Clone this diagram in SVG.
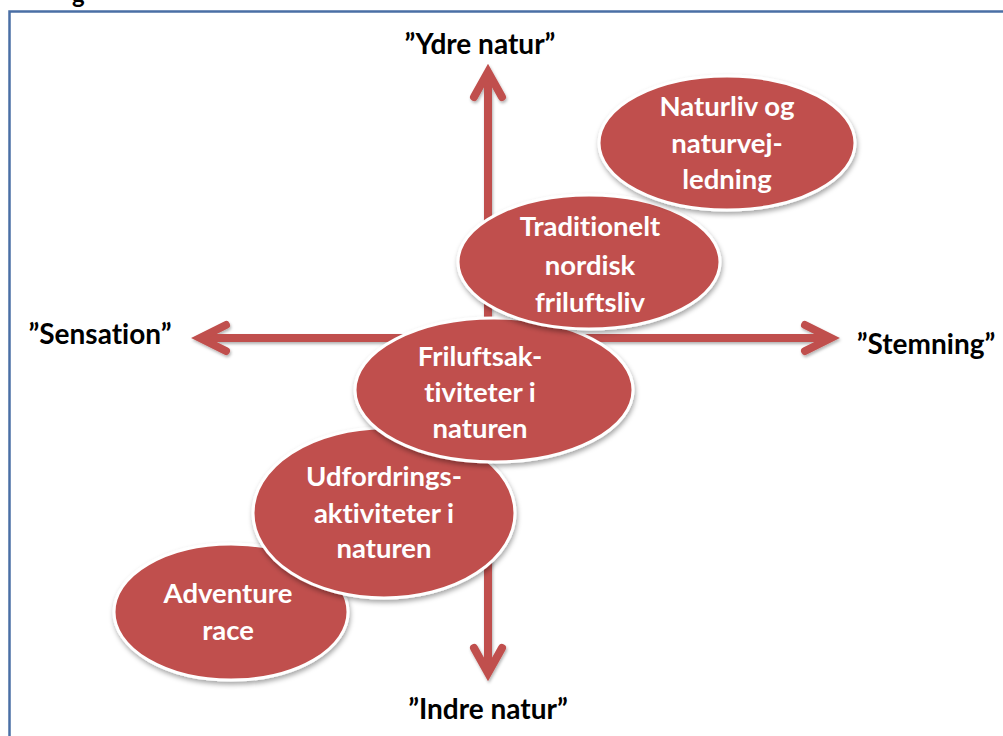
<svg xmlns="http://www.w3.org/2000/svg" width="1003" height="736" viewBox="0 0 1003 736">
<style>
.lbl{font-family:Lato,"Liberation Sans",sans-serif;font-weight:bold;font-size:28px;fill:#000;text-anchor:middle;font-variant-ligatures:none}
.nt{font-family:Lato,"Liberation Sans",sans-serif;font-weight:bold;font-size:27.5px;fill:#fff;text-anchor:middle;font-variant-ligatures:none}
.ell{fill:#c0504d;stroke:#fff;stroke-width:3;filter:url(#sh)}
.ax{stroke:#c0504d;stroke-width:8;fill:none;filter:url(#sh2)}
.hd{stroke:#c0504d;stroke-width:8;fill:none;stroke-linecap:round;stroke-linejoin:miter}
</style>
<defs>
<filter id="sh" x="-20%" y="-20%" width="140%" height="150%">
<feDropShadow dx="1" dy="3" stdDeviation="2.5" flood-color="#000" flood-opacity="0.35"/>
</filter>
<filter id="sh2" x="-10%" y="-10%" width="120%" height="120%">
<feDropShadow dx="1" dy="2" stdDeviation="1.5" flood-color="#000" flood-opacity="0.3"/>
</filter>
</defs>
<rect x="0" y="0" width="1003" height="736" fill="#fff"/>
<text x="72" y="3" style="font-family:Lato,'Liberation Sans',sans-serif;font-size:24px;font-weight:bold" fill="#000">g</text>
<path d="M9.5 740 V11.5 H1010" fill="none" stroke="#4a6fa5" stroke-width="2.5"/>
<g id="connectors">
<g class="ax">
<path d="M488 72 V673"/>
<path d="M200 338 H831"/>
<path class="hd" d="M474 97 L488 72 L502 97"/>
<path class="hd" d="M474 648 L488 673 L502 648"/>
<path class="hd" d="M226 325 L200 338 L226 351"/>
<path class="hd" d="M805 325 L831 338 L805 351"/>
</g>
</g>
<g id="label-ydre"><text class="lbl" x="480" y="54">”Ydre natur”</text></g>
<g id="label-sensation"><text class="lbl" x="100" y="344">”Sensation”</text></g>
<g id="label-stemning"><text class="lbl" x="926" y="354">”Stemning”</text></g>
<g id="label-indre"><text class="lbl" x="488" y="719">”Indre natur”</text></g>
<g id="n-adventure">
<ellipse class="ell" cx="231" cy="612" rx="117" ry="68"/>
<text class="nt" x="228" y="603">Adventure</text>
<text class="nt" x="228" y="640">race</text>
</g>
<g id="n-udfordring">
<ellipse class="ell" cx="384" cy="513" rx="131" ry="85"/>
<text class="nt" x="384" y="486">Udfordrings-</text>
<text class="nt" x="384" y="523">aktiviteter i</text>
<text class="nt" x="384" y="558">naturen</text>
</g>
<g id="n-friluftsak">
<ellipse class="ell" cx="494" cy="390" rx="139" ry="72"/>
<text class="nt" x="480" y="366">Friluftsak-</text>
<text class="nt" x="480" y="402">tiviteter i</text>
<text class="nt" x="480" y="438">naturen</text>
</g>
<g id="n-traditionelt">
<ellipse class="ell" cx="589" cy="262" rx="131" ry="67"/>
<text class="nt" x="590" y="236">Traditionelt</text>
<text class="nt" x="590" y="275">nordisk</text>
<text class="nt" x="590" y="312">friluftsliv</text>
</g>
<g id="n-naturliv">
<ellipse class="ell" cx="727" cy="143" rx="128" ry="67"/>
<text class="nt" x="727" y="116">Naturliv og</text>
<text class="nt" x="727" y="153">naturvej-</text>
<text class="nt" x="727" y="189">ledning</text>
</g>
</svg>
